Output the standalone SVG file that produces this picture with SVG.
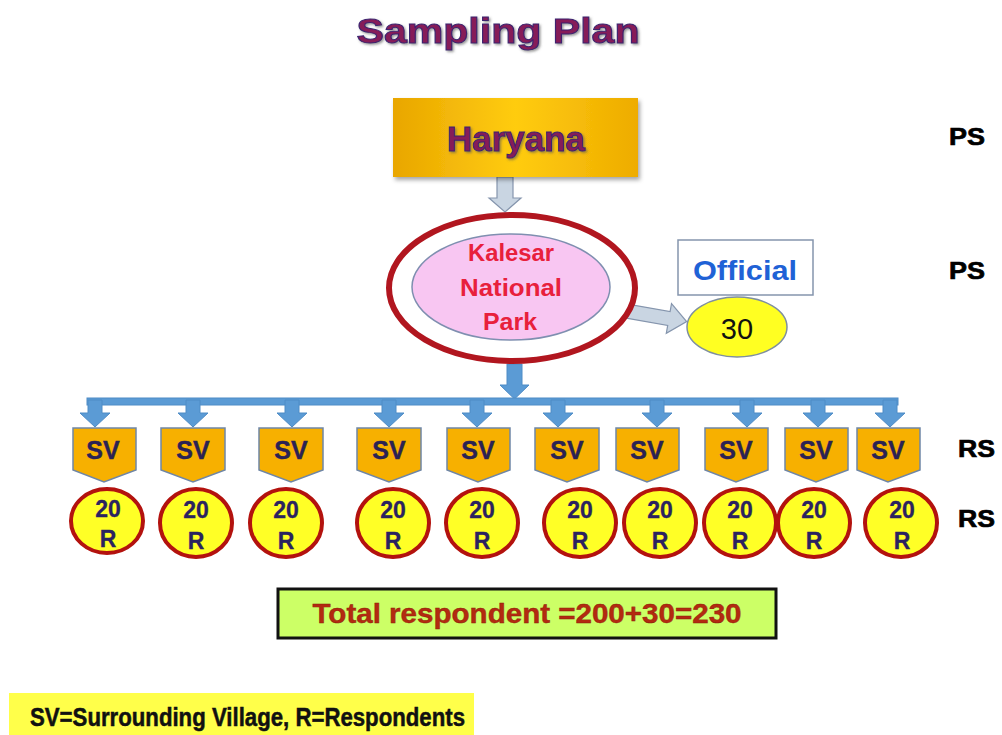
<svg xmlns="http://www.w3.org/2000/svg" width="1002" height="735" viewBox="0 0 1002 735">
  <defs>
    <linearGradient id="goldFill" x1="0" y1="0" x2="1" y2="0">
      <stop offset="0" stop-color="#e9a600"/>
      <stop offset="0.5" stop-color="#ffcc10"/>
      <stop offset="1" stop-color="#eeac00"/>
    </linearGradient>
    <filter id="softShadow" x="-10%" y="-10%" width="130%" height="140%">
      <feDropShadow dx="2" dy="3" stdDeviation="2" flood-color="#000" flood-opacity="0.35"/>
    </filter>
    <filter id="textShadow" x="-5%" y="-20%" width="115%" height="150%">
      <feDropShadow dx="1.5" dy="1.5" stdDeviation="1" flood-color="#555" flood-opacity="0.6"/>
    </filter>
  </defs>
  <style>
    .heading { font-family: "Liberation Sans", Arial, sans-serif; font-weight: bold; fill: #861a58; stroke: #3c2470; stroke-width: 1; text-anchor: middle; }
    .level { font-family: "Liberation Sans", Arial, sans-serif; font-weight: bold; font-size: 24px; fill: #000; stroke: #000; stroke-width: 0.7; }
    .park { font-family: "Liberation Sans", Arial, sans-serif; font-weight: bold; font-size: 23px; fill: #e8203c; text-anchor: middle; }
    .sv { fill: #f7b000; stroke: #6f86a6; stroke-width: 1.5; }
    .svText { font-family: "Liberation Sans", Arial, sans-serif; font-weight: bold; font-size: 25px; fill: #2b2254; stroke: #2b2254; stroke-width: 0.4; text-anchor: middle; }
    .resp { fill: #ffff26; stroke: #b3120e; stroke-width: 4; }
    .respText { font-family: "Liberation Sans", Arial, sans-serif; font-weight: bold; font-size: 23px; fill: #2b2260; stroke: #2b2260; stroke-width: 0.3; text-anchor: middle; }
    .blueArrow { fill: #5b9bd5; stroke: #4f8cc6; stroke-width: 1; }
    .grayArrow { fill: #c9d5e2; stroke: #8595ad; stroke-width: 1.2; }
  </style>

  <rect width="1002" height="735" fill="#ffffff"/>

  <!-- title -->
  <text class="heading" x="498" y="43" font-size="35" textLength="283" lengthAdjust="spacingAndGlyphs" filter="url(#textShadow)">Sampling Plan</text>

  <!-- level labels -->
  <text class="level" x="949" y="145" textLength="36" lengthAdjust="spacingAndGlyphs">PS</text>
  <text class="level" x="949" y="279" textLength="36" lengthAdjust="spacingAndGlyphs">PS</text>
  <text class="level" x="958" y="457" textLength="37" lengthAdjust="spacingAndGlyphs">RS</text>
  <text class="level" x="958" y="527" textLength="37" lengthAdjust="spacingAndGlyphs">RS</text>

  <!-- connectors -->
  <g id="connectors">
    <!-- state to park -->
    <polygon class="grayArrow" points="497,177 513,177 513,198 521,198 505,212 489,198 497,198"/>
    <!-- park to officials -->
    <polygon class="grayArrow" transform="translate(598,306) rotate(10)" points="0,-7 72,-7 72,-15 90,0 72,15 72,7 0,7"/>
    <!-- park to villages -->
    <polygon class="blueArrow" points="507,364 522,364 522,385 529,385 514.5,399 500,385 507,385"/>
    <rect class="blueArrow" x="87" y="398" width="811" height="7"/>
    <g class="blueArrow">
      <polygon points="88,400 102,400 102,413 110,413 95,427 80,413 88,413"/>
      <polygon points="186,400 200,400 200,413 208,413 193,427 178,413 186,413"/>
      <polygon points="285,400 299,400 299,413 307,413 292,427 277,413 285,413"/>
      <polygon points="382,400 396,400 396,413 404,413 389,427 374,413 382,413"/>
      <polygon points="470,400 484,400 484,413 492,413 477,427 462,413 470,413"/>
      <polygon points="551,400 565,400 565,413 573,413 558,427 543,413 551,413"/>
      <polygon points="650,400 664,400 664,413 672,413 657,427 642,413 650,413"/>
      <polygon points="740,400 754,400 754,413 762,413 747,427 732,413 740,413"/>
      <polygon points="811,400 825,400 825,413 833,413 818,427 803,413 811,413"/>
      <polygon points="883,400 897,400 897,413 905,413 890,427 875,413 883,413"/>
    </g>
  </g>

  <!-- state -->
  <g id="haryana">
    <rect x="393" y="98" width="245" height="79" fill="url(#goldFill)" filter="url(#softShadow)"/>
    <text class="heading" x="516" y="151" font-size="35" textLength="138" lengthAdjust="spacingAndGlyphs" filter="url(#textShadow)">Haryana</text>
  </g>

  <!-- national park -->
  <g id="kalesar">
    <ellipse cx="512" cy="288" rx="123" ry="73" fill="#ffffff" stroke="#b1161f" stroke-width="6"/>
    <ellipse cx="511" cy="287" rx="99" ry="53" fill="#f8c6f2" stroke="#7f8fb0" stroke-width="1.5"/>
    <text class="park" x="511" y="261" textLength="86" lengthAdjust="spacingAndGlyphs">Kalesar</text>
    <text class="park" x="511" y="296" textLength="102" lengthAdjust="spacingAndGlyphs">National</text>
    <text class="park" x="510" y="330" textLength="54" lengthAdjust="spacingAndGlyphs">Park</text>
  </g>

  <!-- officials -->
  <g id="official">
    <rect x="678" y="240" width="135" height="55" fill="#ffffff" stroke="#8595ad" stroke-width="1.5"/>
    <text x="745" y="280" font-family="Liberation Sans, Arial, sans-serif" font-weight="bold" font-size="28" fill="#1f62d6" text-anchor="middle" textLength="104" lengthAdjust="spacingAndGlyphs">Official</text>
  </g>
  <g id="official-count">
    <ellipse cx="737" cy="327" rx="50" ry="30" fill="#ffff22" stroke="#7f8fa0" stroke-width="1.5"/>
    <text x="737" y="339" font-family="Liberation Sans, Arial, sans-serif" font-size="29" fill="#111" text-anchor="middle">30</text>
  </g>

  <!-- surrounding villages -->
  <g id="sv1"><polygon class="sv" points="73,428 136,428 136,470 104,482 73,470"/><text class="svText" x="103" y="459">SV</text></g>
  <g id="sv2"><polygon class="sv" points="161,428 225,428 225,470 193,482 161,470"/><text class="svText" x="193" y="459">SV</text></g>
  <g id="sv3"><polygon class="sv" points="259,428 323,428 323,470 291,482 259,470"/><text class="svText" x="291" y="459">SV</text></g>
  <g id="sv4"><polygon class="sv" points="357,428 421,428 421,470 389,482 357,470"/><text class="svText" x="389" y="459">SV</text></g>
  <g id="sv5"><polygon class="sv" points="447,428 510,428 510,470 478,482 447,470"/><text class="svText" x="478" y="459">SV</text></g>
  <g id="sv6"><polygon class="sv" points="535,428 599,428 599,470 567,482 535,470"/><text class="svText" x="567" y="459">SV</text></g>
  <g id="sv7"><polygon class="sv" points="616,428 679,428 679,470 647,482 616,470"/><text class="svText" x="647" y="459">SV</text></g>
  <g id="sv8"><polygon class="sv" points="705,428 768,428 768,470 736,482 705,470"/><text class="svText" x="736" y="459">SV</text></g>
  <g id="sv9"><polygon class="sv" points="785,428 848,428 848,470 816,482 785,470"/><text class="svText" x="816" y="459">SV</text></g>
  <g id="sv10"><polygon class="sv" points="857,428 920,428 920,470 888,482 857,470"/><text class="svText" x="888" y="459">SV</text></g>

  <!-- respondents per village -->
  <g id="r1"><ellipse class="resp" cx="107" cy="521" rx="36" ry="32"/><text class="respText" x="108" y="517">20</text><text class="respText" x="108" y="547">R</text></g>
  <g id="r2"><ellipse class="resp" cx="196" cy="523" rx="36" ry="34"/><text class="respText" x="196" y="518">20</text><text class="respText" x="196" y="549">R</text></g>
  <g id="r3"><ellipse class="resp" cx="286" cy="523" rx="36" ry="34"/><text class="respText" x="286" y="518">20</text><text class="respText" x="286" y="549">R</text></g>
  <g id="r4"><ellipse class="resp" cx="393" cy="523" rx="36" ry="34"/><text class="respText" x="393" y="518">20</text><text class="respText" x="393" y="549">R</text></g>
  <g id="r5"><ellipse class="resp" cx="482" cy="523" rx="36" ry="34"/><text class="respText" x="482" y="518">20</text><text class="respText" x="482" y="549">R</text></g>
  <g id="r6"><ellipse class="resp" cx="580" cy="523" rx="36" ry="34"/><text class="respText" x="580" y="518">20</text><text class="respText" x="580" y="549">R</text></g>
  <g id="r7"><ellipse class="resp" cx="660" cy="523" rx="36" ry="34"/><text class="respText" x="660" y="518">20</text><text class="respText" x="660" y="549">R</text></g>
  <g id="r8"><ellipse class="resp" cx="740" cy="523" rx="36" ry="34"/><text class="respText" x="740" y="518">20</text><text class="respText" x="740" y="549">R</text></g>
  <g id="r9"><ellipse class="resp" cx="814" cy="523" rx="36" ry="34"/><text class="respText" x="814" y="518">20</text><text class="respText" x="814" y="549">R</text></g>
  <g id="r10"><ellipse class="resp" cx="901" cy="523" rx="36" ry="34"/><text class="respText" x="902" y="518">20</text><text class="respText" x="902" y="549">R</text></g>

  <!-- total -->
  <g id="total">
    <rect x="278" y="589" width="498" height="49" fill="#ccff66" stroke="#111" stroke-width="3"/>
    <text x="527" y="623" font-family="Liberation Sans, Arial, sans-serif" font-weight="bold" font-size="28" fill="#b32a10" stroke="#8a2008" stroke-width="0.4" text-anchor="middle" textLength="429" lengthAdjust="spacingAndGlyphs">Total respondent =200+30=230</text>
  </g>

  <!-- legend -->
  <g id="legend">
    <rect x="9" y="693" width="465" height="42" fill="#ffff4a"/>
    <text x="30" y="726" font-family="Liberation Sans, Arial, sans-serif" font-weight="bold" font-size="25" fill="#111" stroke="#111" stroke-width="0.5" textLength="435" lengthAdjust="spacingAndGlyphs">SV=Surrounding Village, R=Respondents</text>
  </g>
</svg>
